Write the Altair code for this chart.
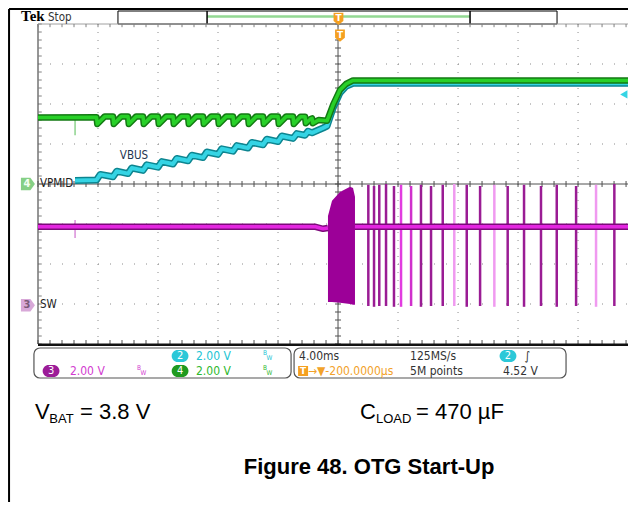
import altair as alt
import pandas as pd

# ---------------- scope graticule: time in ms (4 ms/div, trigger at 0), vertical in divisions
T_MIN, T_MAX = -20.0, 19.33
V_MIN, V_MAX = -4.0, 4.0
GRID_T = [-16, -12, -8, -4, 4, 8, 12, 16]
GRID_V = [-3, -2, -1, 1, 2, 3]
MINOR_T = [round(-20 + 0.8 * i, 2) for i in range(50)]
MINOR_V = [round(-4 + 0.2 * i, 2) for i in range(41)]

# ---------------- Channel 4 (VPMID) green trace: (time ms, divisions)
VPMID = [
    (-20.0, 1.66), (-16.1, 1.67),
    (-16.05, 1.50), (-15.55, 1.69), (-15.0, 1.69), (-14.95, 1.50), (-14.45, 1.69),
    (-14.0, 1.69), (-13.95, 1.50), (-13.45, 1.69), (-13.0, 1.69), (-12.95, 1.50),
    (-12.45, 1.69), (-12.0, 1.69), (-11.95, 1.50), (-11.45, 1.69), (-11.0, 1.69),
    (-10.95, 1.50), (-10.45, 1.69), (-10.0, 1.69), (-9.95, 1.50), (-9.45, 1.69),
    (-9.0, 1.69), (-8.95, 1.50), (-8.45, 1.69), (-8.0, 1.69), (-7.95, 1.50),
    (-7.45, 1.69), (-7.0, 1.69), (-6.95, 1.50), (-6.45, 1.69), (-6.0, 1.69),
    (-5.95, 1.50), (-5.45, 1.69), (-5.0, 1.69), (-4.95, 1.50), (-4.45, 1.69),
    (-4.0, 1.69), (-3.95, 1.50), (-3.45, 1.69), (-3.0, 1.69), (-2.95, 1.50),
    (-2.5, 1.68), (-2.2, 1.68), (-2.15, 1.52), (-1.85, 1.62), (-1.73, 1.64),
    (-1.68, 1.52), (-1.3, 1.60), (-0.73, 1.58), (-0.33, 1.98), (0.13, 2.35),
    (0.53, 2.50), (1.0, 2.59), (19.33, 2.59),
]
VPMID_SPIKES = [(-17.53, 1.66, 1.22)]

# ---------------- Channel 2 (VBUS) cyan trace
VBUS = [
    (-17.53, 0.09), (-16.1, 0.10), (-15.85, 0.24), (-15.0, 0.18), (-14.75, 0.32),
    (-14.0, 0.26), (-13.75, 0.40), (-13.0, 0.34), (-12.75, 0.48), (-12.0, 0.42),
    (-11.75, 0.56), (-11.0, 0.50), (-10.75, 0.64), (-10.0, 0.58), (-9.75, 0.72),
    (-9.0, 0.66), (-8.75, 0.80), (-8.0, 0.74), (-7.75, 0.88), (-7.0, 0.82),
    (-6.75, 0.96), (-6.0, 0.90), (-5.75, 1.04), (-5.0, 0.98), (-4.75, 1.12),
    (-4.0, 1.06), (-3.75, 1.20), (-3.0, 1.14), (-2.75, 1.26), (-2.2, 1.22),
    (-2.0, 1.32), (-1.73, 1.28), (-1.0, 1.40), (-0.73, 1.45), (-0.33, 1.90),
    (0.13, 2.28), (0.53, 2.44), (1.0, 2.52), (19.33, 2.52),
]

# ---------------- Channel 3 (SW) magenta trace
SW_BEFORE = [(-20.0, -1.07), (-1.5, -1.07), (-1.0, -1.12), (-0.67, -1.10)]
SW_AFTER = [(1.13, -1.07), (19.33, -1.07)]
SW_SPIKES = [(-17.53, -0.9, -1.35)]
SW_BLOCK_T = [-0.67, -0.4, 0.13, 0.8, 1.0, 1.13]
SW_BLOCK_TOP = [-0.8, -0.42, -0.2, -0.07, -0.1, -0.32]
SW_BLOCK_BOT = [-2.95, -2.95, -2.97, -3.0, -3.02, -3.02]
SW_PULSE_T = [2.02, 2.4, 2.75, 3.2, 3.73, 4.2, 4.87, 5.53, 6.2, 6.98, 7.75,
              8.58, 9.47, 10.42, 11.31, 12.4, 13.53, 14.58, 15.87, 17.2, 18.42]
SW_PULSE_TOP = [-0.02, -0.05, -0.02, -0.0, -0.05, -0.02, -0.05, -0.02, -0.05, -0.02, 0.0,
                -0.02, -0.05, -0.02, -0.05, -0.02, -0.05, -0.02, -0.05, -0.02, 0.0]
SW_PULSE_BOT = [-3.05, -3.07, -3.05, -3.05, -3.07, -3.07, -3.05, -3.07, -3.05, -3.05, -3.05,
                -3.07, -3.05, -3.07, -3.05, -3.07, -3.05, -3.07, -3.05, -3.07, -3.05]
SW_PULSE_SHADE = ["#9a1c94", "#9a1c94", "#9a1c94", "#9a1c94", "#9a1c94", "#e23ce0", "#d030cc",
                  "#9a1c94", "#9a1c94", "#9a1c94", "#f09af0", "#9a1c94", "#9a1c94", "#f09af0",
                  "#9a1c94", "#9a1c94", "#9a1c94", "#9a1c94", "#9a1c94", "#f09af0", "#9a1c94"]

# ---------------- labels
SCOPE_FONT = "'DejaVu Sans Condensed', 'Liberation Sans Narrow', 'DejaVu Sans', sans-serif"
CH_LABELS = [(-19.87, 0.0, "VPMID"), (-19.87, -3.03, "SW")]
VBUS_LABEL = [(-13.6, 0.69, "VBUS")]
PANEL_TEXT = [
    (-9.47, -4.3, "2.00 V", "#22c4d4"),
    (-17.87, -4.675, "2.00 V", "#d23cd0"),
    (-9.47, -4.675, "2.00 V", "#2eb82e"),
    (-2.6, -4.3, "4.00ms", "#333333"),
    (4.8, -4.3, "125MS/s", "#333333"),
    (4.8, -4.675, "5M points", "#333333"),
    (11.0, -4.675, "4.52 V", "#333333"),
    (-2.0, -4.675, "\u2192\u25bc-200.0000\u00b5s", "#f2a22a"),
    (12.45, -4.3, "\u222b", "#333333"),
]
BW_TEXT = [
    (-5.0, -4.225, "B", "#22c4d4"), (-4.77, -4.35, "W", "#22c4d4"),
    (-13.4, -4.6, "B", "#d23cd0"), (-13.17, -4.725, "W", "#d23cd0"),
    (-5.0, -4.6, "B", "#2eb82e"), (-4.77, -4.725, "W", "#2eb82e"),
]
PILLS = [(-10.53, -4.3, "2", "#2cc8d8"), (-19.13, -4.675, "3", "#9c1c98"),
         (-10.53, -4.675, "4", "#1f9a1f"), (11.33, -4.3, "2", "#2cc8d8")]
CH_MARKERS = [(-20.67, 0.0, "4", "#86d086", "#f2fff2"), (-20.67, -3.03, "3", "#d8a8d8", "#7a5a7a")]
CAPTION_MAIN = [(-20.2, -5.875, "V"), (-17.2, -5.875, "= 3.8 V"),
                (1.47, -5.875, "C"), (5.2, -5.875, "= 470 \u00b5F")]
CAPTION_SUB = [(-19.25, -5.97, "BAT"), (2.53, -5.97, "LOAD")]
FIGURE_TITLE = [(2.07, -7.25, "Figure 48. OTG Start-Up")]

XS = alt.Scale(domain=[T_MIN, T_MAX], nice=False, zero=False)
YS = alt.Scale(domain=[V_MIN, V_MAX], nice=False, zero=False)


def xe(f="t"):
    return alt.X(f + ":Q", scale=XS, axis=None)


def ye(f="v"):
    return alt.Y(f + ":Q", scale=YS, axis=None)


def vrules(ts, v1, v2, **kw):
    df = pd.DataFrame({"t": ts, "v": v1, "v2": v2})
    return alt.Chart(df).mark_rule(**kw).encode(x=xe(), y=ye(), y2="v2:Q")


def hrules(vs, t1, t2, **kw):
    df = pd.DataFrame({"v": vs, "t": t1, "t2": t2})
    return alt.Chart(df).mark_rule(**kw).encode(x=xe(), x2="t2:Q", y=ye())


def line(points, **kw):
    df = pd.DataFrame(points, columns=["t", "v"])
    df["i"] = range(len(df))
    return alt.Chart(df).mark_line(strokeJoin="round", **kw).encode(
        x=xe(), y=ye(), order="i:Q")


def texts(items, cols=("t", "v", "text"), **kw):
    df = pd.DataFrame(items, columns=list(cols))
    enc = dict(x=xe(), y=ye(), text="text:N")
    if "c" in df.columns:
        enc["color"] = alt.Color("c:N", scale=None)
    return alt.Chart(df).mark_text(**kw).encode(**enc)


layers = []

# outer frame of the figure
layers.append(vrules([-21.93], [4.375], [-7.95], color="black", strokeWidth=2))
layers.append(hrules([4.375], [-21.93], [T_MAX], color="black", strokeWidth=2))

# record-length bar on top
bar = pd.DataFrame({"t": [-14.67], "t2": [14.6], "v": [4.325], "v2": [4.0]})
layers.append(alt.Chart(bar).mark_rect(fill="white", stroke="black", strokeWidth=1).encode(
    x=xe(), x2="t2:Q", y=ye(), y2="v2:Q"))
layers.append(hrules([4.19], [-8.73], [8.8], color="#93d893", strokeWidth=2.5))
layers.append(vrules([-8.73, 8.8], [4.325, 4.325], [4.0, 4.0], color="black", strokeWidth=1.5))

# graticule
layers.append(vrules(GRID_T, [4] * len(GRID_T), [-4] * len(GRID_T),
                     color="#8c8c8c", strokeWidth=1, strokeDash=[1, 7]))
layers.append(hrules(GRID_V, [T_MIN] * len(GRID_V), [T_MAX] * len(GRID_V),
                     color="#8c8c8c", strokeWidth=1, strokeDash=[1, 11]))
layers.append(vrules([0], [4], [-4], color="#505050", strokeWidth=1))
layers.append(hrules([0], [T_MIN], [T_MAX], color="#505050", strokeWidth=1))
layers.append(hrules(MINOR_V, [-0.2] * len(MINOR_V), [0.2] * len(MINOR_V), color="#505050", strokeWidth=1))
layers.append(vrules(MINOR_T, [-0.075] * len(MINOR_T), [0.075] * len(MINOR_T), color="#505050", strokeWidth=1))
layers.append(vrules([T_MIN], [4], [-4], color="#505050", strokeWidth=1.2))
layers.append(hrules(MINOR_V, [T_MIN] * len(MINOR_V), [-19.75] * len(MINOR_V), color="#808080", strokeWidth=1))
layers.append(hrules([4], [T_MIN], [T_MAX], color="#a0a0a0", strokeWidth=1))
layers.append(vrules(MINOR_T, [4] * len(MINOR_T), [3.92] * len(MINOR_T), color="#808080", strokeWidth=1))
layers.append(vrules(MINOR_T, [-4] * len(MINOR_T), [-3.9] * len(MINOR_T), color="#505050", strokeWidth=1))
layers.append(hrules([-4.02], [T_MIN], [T_MAX], color="#111111", strokeWidth=2.5))

# traces: VBUS (cyan) under VPMID (green)
layers.append(line(VBUS, color="#0d8590", strokeWidth=7))
layers.append(line(VBUS, color="#35d4e4", strokeWidth=4))
layers.append(vrules([s[0] for s in VPMID_SPIKES], [s[1] for s in VPMID_SPIKES],
                     [s[2] for s in VPMID_SPIKES], color="#70c870", strokeWidth=1.2))
layers.append(line(VPMID, color="#137a13", strokeWidth=6.5))
layers.append(line(VPMID, color="#28d028", strokeWidth=3.5))

# SW (magenta)
layers.append(vrules([s[0] for s in SW_SPIKES], [s[1] for s in SW_SPIKES],
                     [s[2] for s in SW_SPIKES], color="#d070d0", strokeWidth=1.2))
block = pd.DataFrame({"t": SW_BLOCK_T, "top": SW_BLOCK_TOP, "bot": SW_BLOCK_BOT})
layers.append(alt.Chart(block).mark_area(color="#9c0098", opacity=1).encode(
    x=xe(), y=ye("top"), y2="bot:Q"))
pulses = pd.DataFrame({"t": SW_PULSE_T, "v": SW_PULSE_TOP, "v2": SW_PULSE_BOT, "c": SW_PULSE_SHADE})
layers.append(alt.Chart(pulses).mark_rule(strokeWidth=2.5).encode(
    x=xe(), y=ye(), y2="v2:Q", color=alt.Color("c:N", scale=None)))
for pts in (SW_BEFORE, SW_AFTER):
    layers.append(line(pts, color="#7c0a7a", strokeWidth=6.5))
    layers.append(line(pts, color="#e326e0", strokeWidth=3.5))

# channel markers and labels
mk = pd.DataFrame(CH_MARKERS, columns=["t", "v", "text", "c", "tc"])
layers.append(alt.Chart(mk).mark_point(
    shape="M-1,-0.9 L0.35,-0.9 L1,0 L0.35,0.9 L-1,0.9 Z", filled=True, size=196, opacity=1).encode(
    x=xe(), y=ye(), color=alt.Color("c:N", scale=None)))
layers.append(alt.Chart(mk).mark_text(font=SCOPE_FONT, fontSize=11, fontWeight="bold", dx=-1).encode(
    x=xe(), y=ye(), text="text:N", color=alt.Color("tc:N", scale=None)))
layers.append(texts(CH_LABELS, font=SCOPE_FONT, fontSize=11.5, align="left", baseline="middle", color="#222222"))
layers.append(texts(VBUS_LABEL, font=SCOPE_FONT, fontSize=11.5, align="center", baseline="middle", color="#1f3550"))

# trigger markers and trigger level arrow
tmk = pd.DataFrame({"t": [0.03, 0.13], "v": [4.13, 3.71]})
layers.append(alt.Chart(tmk).mark_point(
    shape="M-0.8,-1 L0.8,-1 L0.8,0.35 L0,1 L-0.8,0.35 Z", filled=True, size=150,
    color="#f5a020", opacity=1).encode(x=xe(), y=ye()))
layers.append(alt.Chart(tmk.assign(text="T")).mark_text(
    font="DejaVu Sans", fontSize=9, fontWeight="bold", color="white", dy=-1).encode(
    x=xe(), y=ye(), text="text:N"))
arr = pd.DataFrame({"t": [19.05], "v": [2.24]})
layers.append(alt.Chart(arr).mark_point(shape="triangle-left", filled=True, size=70,
                                         color="#35d4e4", opacity=1).encode(x=xe(), y=ye()))

# top-left "Tek Stop"
layers.append(texts([(-21.13, 4.075, "Tek")], font="Liberation Serif", fontSize=15,
                    fontWeight="bold", align="left", baseline="alphabetic", color="black"))
layers.append(texts([(-19.33, 4.075, "Stop")], font=SCOPE_FONT, fontSize=11.5,
                    align="left", baseline="alphabetic", color="#333333"))

# bottom readout panels
boxes = pd.DataFrame({"t": [-20.27, -2.93], "t2": [-3.13, 15.2], "v": [-4.1, -4.1], "v2": [-4.85, -4.85]})
layers.append(alt.Chart(boxes).mark_rect(fill="white", stroke="#555555", strokeWidth=1.2,
                                         cornerRadius=6).encode(x=xe(), x2="t2:Q", y=ye(), y2="v2:Q"))
pl = pd.DataFrame(PILLS, columns=["t", "v", "text", "c"])
layers.append(alt.Chart(pl).mark_point(
    shape="M-0.3,-0.75 L0.3,-0.75 A0.75,0.75 0 0 1 0.3,0.75 L-0.3,0.75 A0.75,0.75 0 0 1 -0.3,-0.75 Z",
    filled=True, size=256, opacity=1).encode(x=xe(), y=ye(), color=alt.Color("c:N", scale=None)))
layers.append(alt.Chart(pl).mark_text(font=SCOPE_FONT, fontSize=11, color="white").encode(
    x=xe(), y=ye(), text="text:N"))
osq = pd.DataFrame({"t": [-2.33], "v": [-4.675]})
layers.append(alt.Chart(osq).mark_point(shape="square", filled=True, size=100, color="#f5a020",
                                         opacity=1).encode(x=xe(), y=ye()))
layers.append(alt.Chart(osq.assign(text="T")).mark_text(font="DejaVu Sans", fontSize=9,
                                                         fontWeight="bold", color="white").encode(
    x=xe(), y=ye(), text="text:N"))
layers.append(texts(PANEL_TEXT, cols=("t", "v", "text", "c"), font=SCOPE_FONT, fontSize=12,
                    align="left", baseline="middle"))
layers.append(texts(BW_TEXT, cols=("t", "v", "text", "c"), font=SCOPE_FONT, fontSize=6.5,
                    align="left", baseline="middle"))

# captions under the screenshot
layers.append(texts(CAPTION_MAIN, font="Liberation Sans", fontSize=22, align="left",
                    baseline="alphabetic", color="black"))
layers.append(texts(CAPTION_SUB, font="Liberation Sans", fontSize=13, align="left",
                    baseline="alphabetic", color="black"))
layers.append(texts(FIGURE_TITLE, font="Liberation Sans", fontSize=22, fontWeight="bold",
                    align="center", baseline="alphabetic", color="black"))

chart = alt.layer(*layers).properties(
    width=590, height=320,
    autosize=alt.AutoSizeParams(type="none"),
    padding={"left": 30, "top": 16, "right": 0, "bottom": 158},
    background="white",
).configure_view(stroke=None)

chart.save("out.html", embed_options={"renderer": "svg", "actions": False})
